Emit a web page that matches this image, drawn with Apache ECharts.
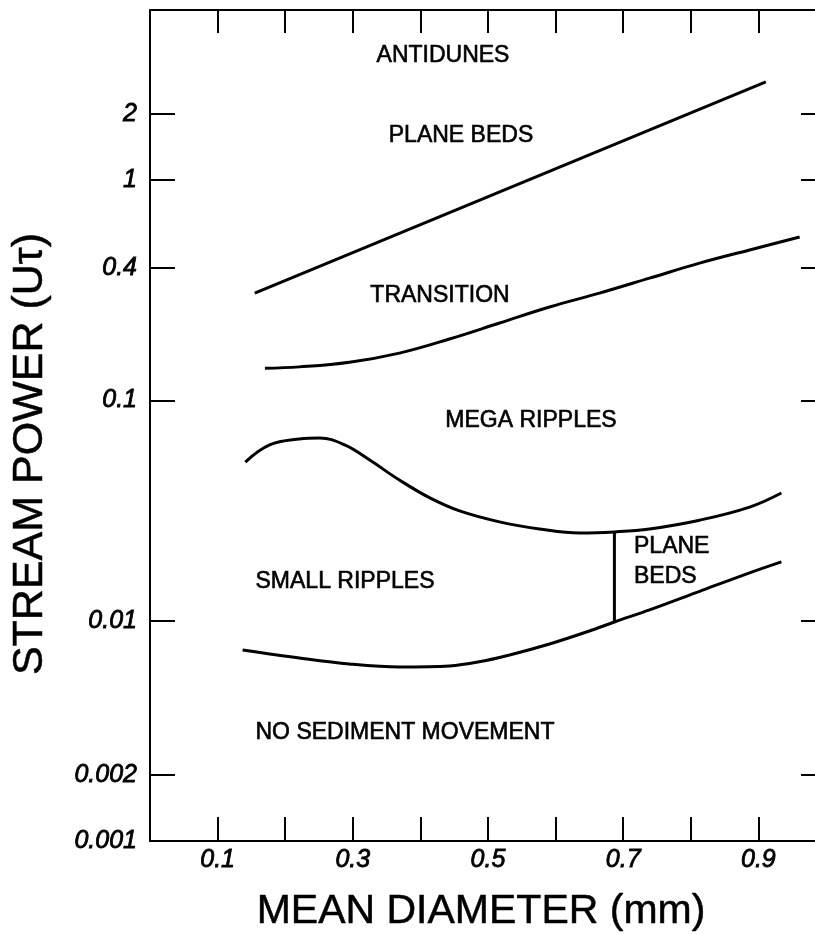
<!DOCTYPE html>
<html><head><meta charset="utf-8">
<script src="https://cdn.jsdelivr.net/npm/echarts@6/dist/echarts.min.js"></script>
<style>html,body{margin:0;padding:0;background:#fff}#c{width:815px;height:934px}</style>
</head><body><div id="c"></div>
<script>
// ---- axes ----
const xTicks = [0.1, 0.2, 0.3, 0.4, 0.5, 0.6, 0.7, 0.8, 0.9];
const xTickLabels = [0.1, 0.3, 0.5, 0.7, 0.9];
const yTicks = [0.002, 0.01, 0.1, 0.4, 1, 2];
const yTickLabels = [0.001, 0.002, 0.01, 0.1, 0.4, 1, 2];

// ---- boundary curves (mean diameter mm, stream power) ----
const planeBedsX = [0.155, 0.911];
const planeBedsY = [0.307, 2.79];

const transitionX = [0.170, 0.221, 0.295, 0.369, 0.443, 0.517, 0.591, 0.665, 0.739, 0.813, 0.887, 0.961];
const transitionY = [0.140, 0.142, 0.149, 0.164, 0.190, 0.2245, 0.2655, 0.307, 0.359, 0.420, 0.482, 0.552];

const megaX = [0.141, 0.177, 0.221, 0.251, 0.288, 0.325, 0.369, 0.414, 0.458, 0.517, 0.576, 0.636, 0.687, 0.739, 0.813, 0.887, 0.934];
const megaY = [0.0525, 0.0628, 0.0668, 0.0675, 0.0628, 0.0536, 0.0435, 0.0361, 0.0315, 0.0281, 0.0261, 0.0250, 0.0253, 0.0261, 0.0286, 0.0328, 0.0380];

const smallX = [0.137, 0.221, 0.295, 0.369, 0.443, 0.485, 0.532, 0.591, 0.650, 0.687, 0.739, 0.813, 0.887, 0.934];
const smallY = [0.00736, 0.00677, 0.00636, 0.00616, 0.00623, 0.00649, 0.00699, 0.00784, 0.00898, 0.00987, 0.0112, 0.0136, 0.0165, 0.0185];

const dividerX = [0.687, 0.687];
const dividerY = [0.0253, 0.00987];

const regionLabels = ['ANTIDUNES', 'PLANE BEDS', 'TRANSITION', 'MEGA RIPPLES', 'PLANE', 'BEDS', 'SMALL RIPPLES', 'NO SEDIMENT MOVEMENT'];

function pairs(xs, ys) { return xs.map((x, i) => [x, ys[i]]); }

const chart = echarts.init(document.getElementById('c'), null, {renderer: 'canvas'});
const FONT = 'Liberation Sans, Arial, Helvetica, sans-serif';
const lineStyle = {color: '#000', width: 3};
const fmt = v => String(+(+v).toPrecision(6));

function mkLine(xs, ys, smooth) {
  return {type: 'line', data: pairs(xs, ys), showSymbol: false, symbol: 'none', smooth: smooth,
    lineStyle: lineStyle, silent: true, animation: false};
}

const tickCommon = {show: true, inside: true, lineStyle: {color: '#000', width: 2}};
const tickLabel = {color: '#000', fontFamily: FONT, fontStyle: 'italic', fontSize: 25, textBorderColor: '#000', textBorderWidth: 0.8};

function region(text, x, y, align) {
  return {type: 'text', x: x, y: y,
    style: {text: text, font: '23px ' + FONT, fill: '#000', stroke: '#000', lineWidth: 0.6,
      align: align || 'center', verticalAlign: 'middle'}};
}

const option = {
  backgroundColor: '#fff',
  animation: false,
  grid: {left: 150, top: 10, width: 676, height: 831, containLabel: false, outerBoundsMode: 'none'},
  xAxis: [
    {type: 'value', position: 'bottom', min: 0, max: 1, interval: 0.1,
      axisLine: {show: true, onZero: false, lineStyle: {color: '#000', width: 2}},
      axisTick: Object.assign({length: 24, customValues: xTicks}, tickCommon),
      axisLabel: Object.assign({customValues: xTickLabels, formatter: fmt, margin: 7}, tickLabel),
      splitLine: {show: false}},
    {type: 'value', position: 'top', min: 0, max: 1, interval: 0.1,
      axisLine: {show: true, onZero: false, lineStyle: {color: '#000', width: 2}},
      axisTick: Object.assign({length: 23, customValues: xTicks}, tickCommon),
      axisLabel: {show: false}, splitLine: {show: false}}
  ],
  yAxis: [
    {type: 'log', position: 'left', min: 0.001, max: 5.92, logBase: 10,
      axisLine: {show: true, onZero: false, lineStyle: {color: '#000', width: 2}},
      axisTick: Object.assign({length: 25, customValues: yTicks}, tickCommon),
      axisLabel: Object.assign({customValues: yTickLabels, formatter: fmt, margin: 13}, tickLabel),
      splitLine: {show: false}, minorTick: {show: false}},
    {type: 'log', position: 'right', min: 0.001, max: 5.92, logBase: 10,
      axisLine: {show: true, onZero: false, lineStyle: {color: '#000', width: 2}},
      axisTick: Object.assign({length: 25, customValues: yTicks}, tickCommon),
      axisLabel: {show: false}, splitLine: {show: false}}
  ],
  series: [
    mkLine(planeBedsX, planeBedsY, false),
    mkLine(transitionX, transitionY, 0.4),
    mkLine(megaX, megaY, 0.4),
    mkLine(smallX, smallY, 0.35),
    mkLine(dividerX, dividerY, false)
  ],
  graphic: [
    {type: 'text', x: 30, y: 454, rotation: Math.PI / 2,
      style: {text: 'STREAM POWER (Uτ)', font: '43px ' + FONT, fill: '#000', stroke: '#000', lineWidth: 0.5, align: 'center', verticalAlign: 'middle'}},
    {type: 'text', x: 481, y: 912,
      style: {text: 'MEAN DIAMETER (mm)', font: '41px ' + FONT, fill: '#000', stroke: '#000', lineWidth: 0.5, align: 'center', verticalAlign: 'middle'}},
    region(regionLabels[0], 443, 56),
    region(regionLabels[1], 461, 136),
    region(regionLabels[2], 440, 296),
    region(regionLabels[3], 531, 421),
    region(regionLabels[4], 634, 547, 'left'),
    region(regionLabels[5], 634, 577, 'left'),
    region(regionLabels[6], 345, 582),
    region(regionLabels[7], 405, 733)
  ]
};
chart.setOption(option);
</script>
</body></html>
